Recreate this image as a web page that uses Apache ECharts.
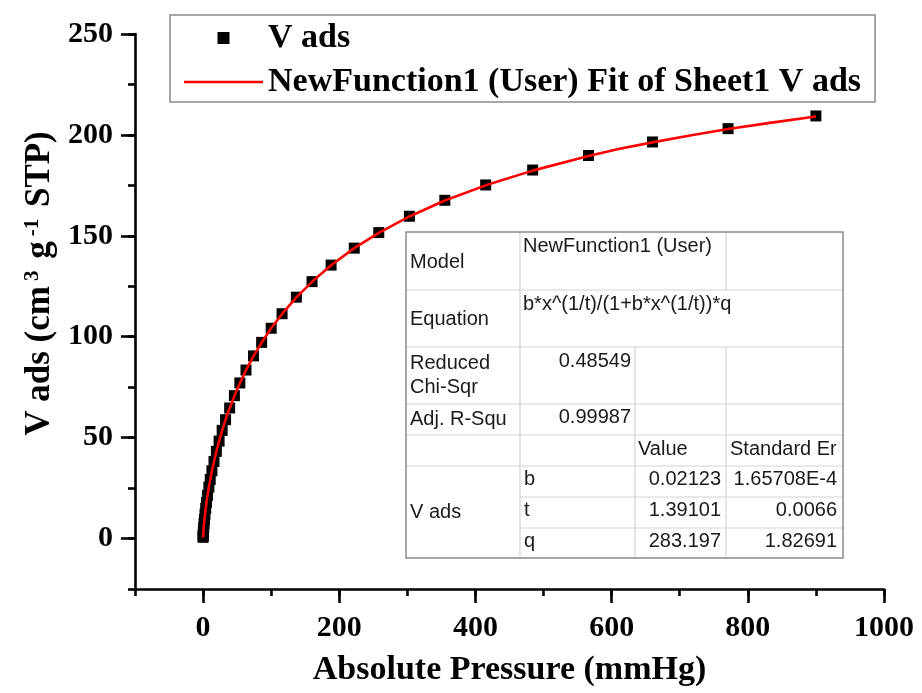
<!DOCTYPE html>
<html>
<head>
<meta charset="utf-8">
<script src="https://cdn.jsdelivr.net/npm/echarts@6/dist/echarts.min.js"></script>
<style>
  html, body { margin: 0; padding: 0; background: #fff; }
  #chart { width: 922px; height: 693px; }
</style>
</head>
<body>
<div id="chart"></div>
<script>
// ---- data ----
const pressure = [0.03, 0.1, 0.25, 0.5, 0.9, 1.4, 2, 2.8, 3.8, 5, 6.5, 8.5, 10.5, 13, 16, 19.5, 23.5, 28, 33, 39, 46, 54, 63, 74, 86, 100, 116, 137, 160, 188, 222, 258, 303, 355, 415, 484, 566, 660, 771, 900];
const vAds = [0.6, 1.3, 2.3, 3.7, 5.5, 7.4, 9.5, 12.0, 14.9, 17.9, 21.4, 25.5, 29.3, 33.6, 38.2, 43.2, 48.3, 53.6, 58.9, 64.7, 70.8, 77.1, 83.5, 90.5, 97.2, 104.2, 111.4, 119.6, 127.3, 135.5, 143.9, 151.6, 159.7, 167.6, 175.2, 182.6, 189.8, 196.5, 203.1, 209.4];
const fitX = [0.03, 0.1, 0.25, 0.5, 0.9, 1.4, 2, 2.8, 3.8, 5, 6.5, 8.5, 10.5, 13, 16, 19.5, 23.5, 28, 33, 39, 46, 54, 63, 74, 86, 100, 116, 137, 160, 188, 222, 258, 303, 355, 415, 484, 566, 610, 660, 715, 771, 835, 900];
const fitY = [0.5, 1.1, 2.2, 3.6, 5.5, 7.5, 9.6, 12.1, 14.9, 17.9, 21.4, 25.5, 29.2, 33.5, 38.2, 43.1, 48.3, 53.5, 58.9, 64.6, 70.7, 77.0, 83.4, 90.4, 97.1, 104.2, 111.3, 119.5, 127.2, 135.4, 143.9, 151.5, 159.6, 167.5, 175.0, 182.3, 189.5, 193.0, 196.3, 199.7, 202.9, 206.1, 209.1];
const xRange = [-100, 1000];
const yRange = [-25, 250];
const xMajorStep = 200, xMinorStep = 100;
const yMajorStep = 50, yMinorStep = 25;
const seriesNames = ['V ads', 'NewFunction1 (User) Fit of Sheet1 V ads'];
const tableModel = 'NewFunction1 (User)';
const tableEquation = 'b*x^(1/t)/(1+b*x^(1/t))*q';
const tableChi = '0.48549';
const tableR2 = '0.99987';
const paramNames = ['b', 't', 'q'];
const paramValues = ['0.02123', '1.39101', '283.197'];
const paramErrors = ['1.65708E-4', '0.0066', '1.82691'];

const SERIF = "'Liberation Serif', 'Times New Roman', serif";
const SANS = "'Liberation Sans', Arial, sans-serif";

const chart = echarts.init(document.getElementById('chart'));

// ---- layout ----
const W = 922, H = 693;
const G = { left: 135, right: 38, top: 34, bottom: 104 };
const plotW = W - G.left - G.right, plotH = H - G.top - G.bottom;
// secondary grid starting at value 0 on both axes, used only for the long (major) ticks
const offX = plotW * (0 - xRange[0]) / (xRange[1] - xRange[0]);
const offY = plotH * (0 - yRange[0]) / (yRange[1] - yRange[0]);
const G2 = { left: G.left + offX, right: G.right, top: G.top, bottom: G.bottom + offY };

// ---- fit table as graphic annotation ----
const TX = 406, TY = 232, TW = 437, TH = 326;
const lineColor = '#d4d4d4';
const txtColor = '#1a1a1a';
function hl(x1, x2, y) { return { type: 'line', shape: { x1, y1: y, x2, y2: y }, style: { stroke: lineColor, lineWidth: 1.2 } }; }
function vl(x, y1, y2) { return { type: 'line', shape: { x1: x, y1, x2: x, y2 }, style: { stroke: lineColor, lineWidth: 1.2 } }; }
function tx(text, x, y, align) {
  return { type: 'text', x, y, style: { text, fill: txtColor, font: '20px ' + SANS, textAlign: align || 'left', textVerticalAlign: 'middle' } };
}
const tableChildren = [
  { type: 'rect', shape: { x: TX, y: TY, width: TW, height: TH }, style: { fill: '#fff', stroke: 'none' } },
  hl(TX, TX + TW, 290), hl(TX, TX + TW, 347), hl(TX, TX + TW, 404), hl(TX, TX + TW, 435), hl(TX, TX + TW, 466),
  hl(520, TX + TW, 497), hl(520, TX + TW, 528),
  vl(520, TY, TY + TH), vl(726, TY, 290), vl(635, 347, TY + TH), vl(726, 347, TY + TH),
  tx('Model', 410, 262), tx(tableModel, 523, 246),
  tx('Equation', 410, 319), tx(tableEquation, 523, 304),
  tx('Reduced', 410, 363), tx('Chi-Sqr', 410, 387), tx(tableChi, 631, 361, 'right'),
  tx('Adj. R-Squ', 410, 419), tx(tableR2, 631, 417, 'right'),
  tx('Value', 638, 449), tx('Standard Er', 730, 449),
  tx('V ads', 410, 512),
  { type: 'rect', shape: { x: TX, y: TY, width: TW, height: TH }, style: { fill: 'none', stroke: '#8a8a8a', lineWidth: 1.5 } }
];
const rowY = [479, 510, 541];
paramNames.forEach((p, i) => {
  tableChildren.push(tx(p, 524, rowY[i]));
  tableChildren.push(tx(paramValues[i], 721, rowY[i], 'right'));
  tableChildren.push(tx(paramErrors[i], 837, rowY[i], 'right'));
});

const axisLineStyle = { color: '#000', width: 2.6 };
const tickStyle = { color: '#000', width: 2.6 };
const labelStyle = { fontFamily: SERIF, fontWeight: 'bold', fontSize: 30, color: '#000' };

const option = {
  backgroundColor: '#fff',
  animation: false,
  grid: [
    { left: G.left, right: G.right, top: G.top, bottom: G.bottom, containLabel: false },
    { left: G2.left, right: G2.right, top: G2.top, bottom: G2.bottom, containLabel: false }
  ],
  legend: {
    orient: 'vertical',
    left: 170,
    top: 15,
    padding: [6, 14, 3, 14],
    itemGap: 10,
    itemWidth: 79,
    itemHeight: 12,
    borderColor: '#8a8a8a',
    borderWidth: 1.5,
    textStyle: { fontFamily: SERIF, fontWeight: 'bold', fontSize: 34, color: '#000' },
    data: [
      { name: seriesNames[0], icon: 'path://M0,0L10,0L10,10L0,10Z' },
      { name: seriesNames[1], icon: 'path://M0,0L100,0L100,3.2L0,3.2Z', itemStyle: { color: '#ff0000' } }
    ]
  },
  xAxis: [
    {
      type: 'value', gridIndex: 0, min: xRange[0], max: xRange[1], interval: xMinorStep,
      splitLine: { show: false },
      axisLine: { show: true, onZero: false, lineStyle: axisLineStyle },
      axisTick: { show: true, inside: false, length: 7, lineStyle: tickStyle },
      axisLabel: {
        show: true, margin: 24, ...labelStyle,
        formatter: v => (v >= 0 && v % xMajorStep === 0) ? String(v) : ''
      },
      name: 'Absolute Pressure (mmHg)',
      nameLocation: 'middle',
      nameGap: 64,
      nameTextStyle: { fontFamily: SERIF, fontWeight: 'bold', fontSize: 34, color: '#000' }
    },
    {
      type: 'value', gridIndex: 1, min: 0, max: xRange[1], interval: xMajorStep,
      offset: offY,
      splitLine: { show: false },
      axisLine: { show: false, onZero: false },
      axisTick: { show: true, inside: false, length: 14, lineStyle: tickStyle },
      axisLabel: { show: false }
    }
  ],
  yAxis: [
    {
      type: 'value', gridIndex: 0, min: yRange[0], max: yRange[1], interval: yMinorStep,
      splitLine: { show: false },
      axisLine: { show: true, onZero: false, lineStyle: axisLineStyle },
      axisTick: { show: true, inside: false, length: 7, lineStyle: tickStyle },
      axisLabel: {
        show: true, margin: 22, ...labelStyle,
        formatter: v => (v >= 0 && v % yMajorStep === 0) ? String(v) : ''
      },
      name: '{a|V ads (cm}{s|3}{a| g}{s|-1}{a| STP)}',
      nameLocation: 'middle',
      nameGap: 73,
      nameTextStyle: {
        fontFamily: SERIF, fontWeight: 'bold', fontSize: 35, color: '#000',
        padding: [0, 0, 0, 56],
        rich: {
          a: { fontFamily: SERIF, fontWeight: 'bold', fontSize: 35, color: '#000' },
          s: { fontFamily: SERIF, fontWeight: 'bold', fontSize: 21, color: '#000', verticalAlign: 'top', padding: [0, 3, 0, 5] }
        }
      }
    },
    {
      type: 'value', gridIndex: 1, min: 0, max: yRange[1], interval: yMajorStep,
      offset: offX,
      splitLine: { show: false },
      axisLine: { show: false, onZero: false },
      axisTick: { show: true, inside: false, length: 14, lineStyle: tickStyle },
      axisLabel: { show: false }
    }
  ],
  series: [
    {
      name: seriesNames[0],
      type: 'scatter',
      xAxisIndex: 0, yAxisIndex: 0,
      symbol: 'rect',
      symbolSize: 11,
      itemStyle: { color: '#000', opacity: 1 },
      data: pressure.map((p, i) => [p, vAds[i]]),
      z: 2
    },
    {
      name: seriesNames[1],
      type: 'line',
      xAxisIndex: 0, yAxisIndex: 0,
      symbol: 'none',
      smooth: false,
      lineStyle: { color: '#ff0000', width: 2.6 },
      itemStyle: { color: '#ff0000' },
      data: fitX.map((x, i) => [x, fitY[i]]),
      z: 3
    }
  ],
  graphic: [
    { type: 'group', z: 10, children: tableChildren }
  ]
};
chart.setOption(option);
</script>
</body>
</html>
